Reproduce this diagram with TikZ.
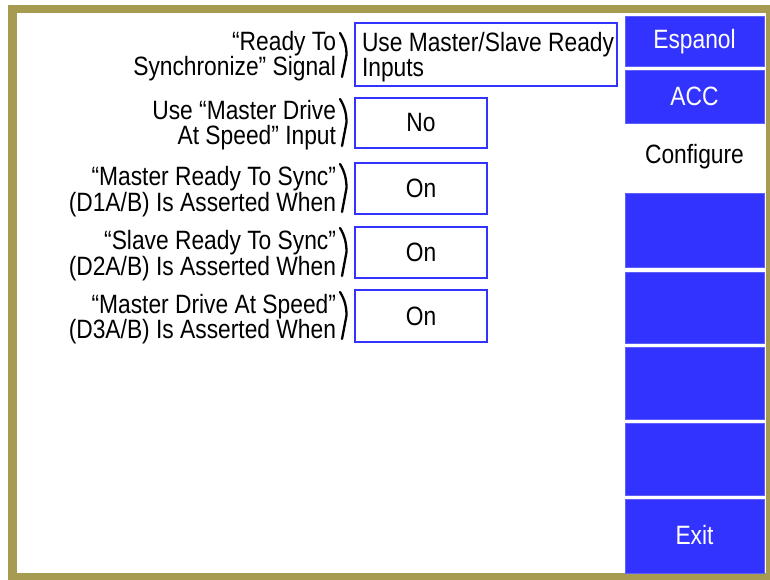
\documentclass[tikz,border=0pt]{standalone}
\usepackage{fontspec}
\setmainfont{Liberation Sans}[FakeStretch=0.86]
\definecolor{frame}{RGB}{166,155,80}
\definecolor{btnblue}{RGB}{51,51,255}
\definecolor{btnedge}{RGB}{96,96,255}
\begin{document}
\begin{tikzpicture}[x=1pt,y=-1pt,
  every node/.style={inner sep=0pt, outer sep=0pt},
  txt/.style={font=\fontsize{26.5}{25.5}\selectfont, text=black},
  label/.style={txt, align=right, anchor=base east},
  field/.style={draw=btnblue, line width=2.8pt, fill=white},
  btn/.style={fill=btnblue, draw=btnedge, line width=0.8pt},
  btntext/.style={txt, text=white},
  brk/.style={line width=2.3pt, line cap=round}
]
\useasboundingbox (0,0) rectangle (770,580);
% outer gold bezel
\fill[frame] (8,5) rectangle (776,586);
\fill[white] (17,13) rectangle (766,573);

% setting fields
\draw[field] (355,23) rectangle (617,86);
\draw[field] (355,98) rectangle (487,148);
\draw[field] (355,163) rectangle (487,214);
\draw[field] (355,227) rectangle (487,278);
\draw[field] (355,290) rectangle (487,342);

% field values (base anchor sits on the last line)
\node[txt, align=left, anchor=base west] (v1) at (362,77) {Use Master/Slave Ready\\Inputs};
\node[txt] (v2) at (421,123) {No};
\node[txt] (v3) at (421,188.5) {On};
\node[txt] (v4) at (421,252.5) {On};
\node[txt] (v5) at (421,316) {On};

% row captions
\node[label] (l1) at (336,76) {“Ready To\\Synchronize” Signal};
\node[label] (l2) at (336,145) {Use “Master Drive\\At Speed” Input};
\node[label] (l3) at (336,211) {“Master Ready To Sync”\\(D1A/B) Is Asserted When};
\node[label] (l4) at (336,275) {“Slave Ready To Sync”\\(D2A/B) Is Asserted When};
\node[label] (l5) at (336,338.5) {“Master Drive At Speed”\\(D3A/B) Is Asserted When};

% bracket marks between captions and fields
\foreach \t/\b in {33/77, 99/146, 164/212, 228/276, 292/339}{
  \pgfmathsetmacro{\m}{(\t+\b)/2}
  \draw[brk] (340,\t) .. controls (345,\t+8) and (346.5,\m-8) .. (346.5,\m) -- (342,\b);
}

% side buttons
\draw[btn] (625,16) rectangle (764,66);
\draw[btn] (625,70) rectangle (764,123);
\draw[btn] (625,193) rectangle (764,267);
\draw[btn] (625,272) rectangle (764,343);
\draw[btn] (625,347) rectangle (764,419);
\draw[btn] (625,423) rectangle (764,495);
\draw[btn] (625,499) rectangle (764,573);
\node[btntext] (b1) at (694.5,41.5) {Espanol};
\node[btntext] (b2) at (694.5,96.5) {ACC};
\node[txt] (b3) at (694.5,157) {Configure};
\node[btntext] (b7) at (694.5,535) {Exit};
\end{tikzpicture}
\end{document}
